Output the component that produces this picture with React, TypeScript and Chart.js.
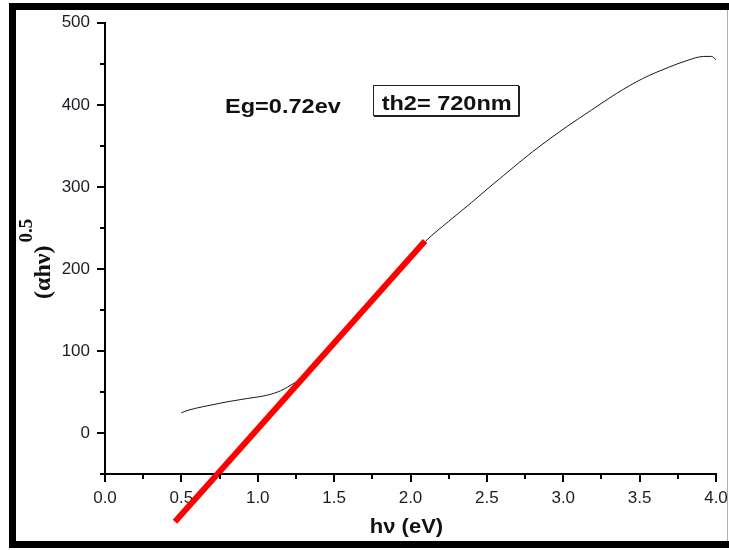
import React, { useEffect, useRef } from 'react';
import { Chart, registerables } from 'chart.js';

Chart.register(...registerables);

// Measured absorption curve (hν in eV, (αhν)^0.5)
const curveHv = [0.50, 0.55, 0.64, 0.72, 0.80, 0.93, 1.06, 1.15, 1.24, 1.30, 1.50, 1.70, 1.90, 2.10, 2.25, 2.40, 2.50, 2.61, 2.80, 3.02, 3.18, 3.35, 3.52, 3.68, 3.81, 3.92, 3.97, 4.00];
const curveY = [24.7, 28, 32, 35, 38, 42, 46, 51.5, 61, 68, 109, 151, 193, 234, 258, 281, 297, 314, 343, 373, 393, 414, 432, 445, 454, 459, 459, 455];

// Linear fit (red) end points
const fitHv = [0.458, 2.095];
const fitY = [-108.3, 233.9];

const xMajorTicks = [0, 0.5, 1, 1.5, 2, 2.5, 3, 3.5, 4];
const xMinorTicks = [0.25, 0.75, 1.25, 1.75, 2.25, 2.75, 3.25, 3.75];
const yMajorTicks = [0, 100, 200, 300, 400, 500];
const yMinorTicks = [-50, 50, 150, 250, 350, 450];

const egLabel = 'Eg=0.72ev';
const sampleLabel = 'th2= 720nm';
const xTitle = 'hν (eV)';
const yTitleMain = '(αhν)';
const yTitleSup = '0.5';

const SANS = '"Liberation Sans", Arial, sans-serif';
const SERIF = '"Liberation Serif", "Times New Roman", serif';

function stretchedText(ctx: CanvasRenderingContext2D, text: string, x: number, y: number, font: string, sx: number) {
  ctx.save();
  ctx.translate(x, y);
  ctx.scale(sx, 1);
  ctx.font = font;
  ctx.fillText(text, 0, 0);
  ctx.restore();
}

const decorPlugin = {
  id: 'decor',
  beforeDraw(chart: any) {
    const ctx = chart.ctx as CanvasRenderingContext2D;
    ctx.save();
    ctx.fillStyle = '#ffffff';
    ctx.fillRect(0, 0, chart.width, chart.height);
    ctx.restore();
  },
  afterDraw(chart: any) {
    const ctx = chart.ctx as CanvasRenderingContext2D;
    const { x, y } = chart.scales;
    const area = chart.chartArea;
    ctx.save();

    // minor ticks
    ctx.strokeStyle = '#000';
    ctx.lineWidth = 2;
    ctx.beginPath();
    for (const v of xMinorTicks) {
      const px = Math.round(x.getPixelForValue(v));
      ctx.moveTo(px, area.bottom);
      ctx.lineTo(px, area.bottom + 5);
    }
    for (const v of yMinorTicks) {
      const py = Math.round(y.getPixelForValue(v));
      ctx.moveTo(area.left, py);
      ctx.lineTo(area.left - 5, py);
    }
    ctx.stroke();

    // annotations
    ctx.fillStyle = '#111';
    ctx.textBaseline = 'alphabetic';
    ctx.textAlign = 'left';
    stretchedText(ctx, egLabel, x.getPixelForValue(0.786), y.getPixelForValue(390.4), `bold 21px ${SANS}`, 1.12);

    const bl = x.getPixelForValue(1.755);
    const br = x.getPixelForValue(2.704);
    const bt = y.getPixelForValue(424.2);
    const bb = y.getPixelForValue(387.6);
    ctx.strokeStyle = '#222';
    ctx.lineWidth = 1;
    ctx.strokeRect(Math.round(bl) + 0.5, Math.round(bt) + 0.5, Math.round(br - bl), Math.round(bb - bt));
    ctx.beginPath();
    ctx.moveTo(Math.round(br) + 1.5, Math.round(bt) + 1);
    ctx.lineTo(Math.round(br) + 1.5, Math.round(bb) + 1.5);
    ctx.lineTo(Math.round(bl) + 1, Math.round(bb) + 1.5);
    ctx.stroke();
    stretchedText(ctx, sampleLabel, x.getPixelForValue(1.811), y.getPixelForValue(394.3), `bold 21px ${SANS}`, 1.12);

    // x title
    ctx.font = `bold 20px ${SANS}`;
    const xtw = ctx.measureText(xTitle).width * 1.1;
    const xcx = (area.left + area.right) / 2 - 4;
    stretchedText(ctx, xTitle, xcx - xtw / 2, area.bottom + 59, `bold 20px ${SANS}`, 1.1);

    // y title (rotated)
    ctx.save();
    ctx.translate(50, 299);
    ctx.rotate(-Math.PI / 2);
    ctx.font = `bold 24px ${SERIF}`;
    ctx.fillText(yTitleMain, 0, 0);
    const mw = ctx.measureText(yTitleMain).width;
    ctx.font = `bold 19px ${SERIF}`;
    ctx.fillText(yTitleSup, mw + 3, -18);
    ctx.restore();

    // outer frame
    ctx.fillStyle = '#000';
    ctx.fillRect(9, 3, 7, 545);
    ctx.fillRect(9, 3, chart.width - 9, 7);
    ctx.fillRect(9, 541, chart.width - 9, 7);
    ctx.fillStyle = '#b0b0b0';
    ctx.fillRect(727, 10, 1, 531);

    ctx.restore();
  },
};

export default function App() {
  const canvasRef = useRef<HTMLCanvasElement | null>(null);

  useEffect(() => {
    const canvas = canvasRef.current;
    if (!canvas) return;
    const chart = new Chart(canvas, {
      type: 'scatter',
      data: {
        datasets: [
          {
            label: 'fit',
            data: fitHv.map((v, i) => ({ x: v, y: fitY[i] })),
            showLine: true,
            borderColor: '#ff0000',
            borderWidth: 6,
            pointRadius: 0,
            clip: false as any,
          },
          {
            label: 'curve',
            data: curveHv.map((v, i) => ({ x: v, y: curveY[i] })),
            showLine: true,
            borderColor: '#1a1a1a',
            borderWidth: 1,
            pointRadius: 0,
            cubicInterpolationMode: 'monotone',
          },
        ],
      },
      options: {
        responsive: false,
        animation: false,
        events: [],
        layout: { padding: { top: 22.8, right: 13, bottom: 0, left: 0 } },
        plugins: { legend: { display: false }, tooltip: { enabled: false } },
        scales: {
          x: {
            type: 'linear',
            min: 0,
            max: 4,
            afterBuildTicks: (scale: any) => {
              scale.ticks = xMajorTicks.map((v) => ({ value: v }));
            },
            afterFit: (scale: any) => {
              scale.height = 76;
              scale.paddingLeft = 0;
              scale.paddingRight = 0;
            },
            border: { display: true, color: '#000', width: 2 },
            grid: { drawOnChartArea: false, drawTicks: true, tickLength: 8, color: '#000', lineWidth: 2, tickWidth: 2 },
            ticks: {
              color: '#1c1c24',
              font: { family: SANS, size: 17 },
              padding: 6,
              maxRotation: 0,
              autoSkip: false,
              callback: (v: any) => Number(v).toFixed(1),
            },
          },
          y: {
            type: 'linear',
            min: -50,
            max: 500,
            afterBuildTicks: (scale: any) => {
              scale.ticks = yMajorTicks.map((v) => ({ value: v }));
            },
            afterFit: (scale: any) => {
              scale.width = 105;
              scale.paddingTop = 0;
              scale.paddingBottom = 0;
            },
            border: { display: true, color: '#000', width: 2 },
            grid: { drawOnChartArea: false, drawTicks: true, tickLength: 8, color: '#000', lineWidth: 2, tickWidth: 2 },
            ticks: {
              color: '#1c1c24',
              font: { family: SANS, size: 17 },
              padding: 7,
              autoSkip: false,
              callback: (v: any) => String(v),
            },
          },
        },
      },
      plugins: [decorPlugin],
    } as any);
    return () => chart.destroy();
  }, []);

  return (
    <div style={{ position: 'fixed', left: 0, top: 0, width: 729, height: 550, background: '#fff' }}>
      <canvas ref={canvasRef} width={729} height={550} style={{ display: 'block' }} />
    </div>
  );
}
